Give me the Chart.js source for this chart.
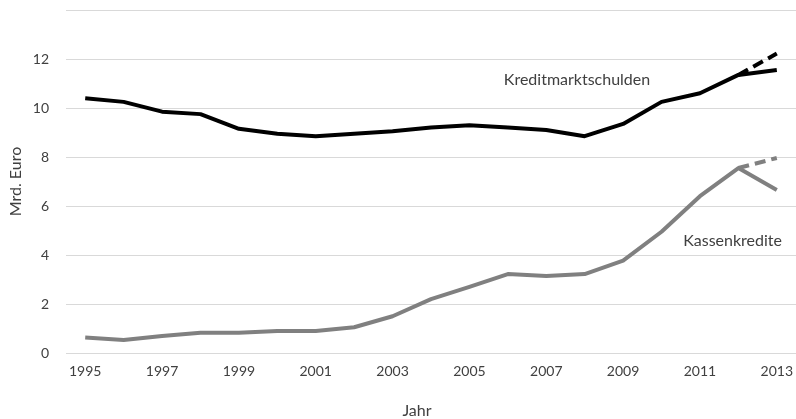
<!DOCTYPE html>
<html>
<head>
<meta charset="utf-8">
<script src="https://cdn.jsdelivr.net/npm/chart.js@4.4.1/dist/chart.umd.min.js"></script>
<style>
  html, body { margin: 0; padding: 0; background: #fff; }
  #wrap { width: 796px; height: 419px; }
</style>
</head>
<body>
<div id="wrap"><canvas id="debtChart"></canvas></div>
<script>
const years = ['1995', '1996', '1997', '1998', '1999', '2000', '2001', '2002', '2003', '2004',
    '2005', '2006', '2007', '2008', '2009', '2010', '2011', '2012', '2013'];
const kreditmarkt = [10.4, 10.25, 9.85, 9.75, 9.15, 8.95, 8.85, 8.95, 9.05, 9.2,
    9.3, 9.2, 9.1, 8.85, 9.35, 10.25, 10.6, 11.35, 11.55];
const kreditmarktPlan = [null, null, null, null, null, null, null, null, null, null,
    null, null, null, null, null, null, null, 11.35, 12.22];
const kassenkredite = [0.63, 0.53, 0.69, 0.83, 0.83, 0.9, 0.9, 1.05, 1.5, 2.2,
    2.7, 3.22, 3.14, 3.22, 3.77, 4.95, 6.4, 7.55, 6.65];
const kassenPlan = [null, null, null, null, null, null, null, null, null, null,
    null, null, null, null, null, null, null, 7.55, 7.96];
const yTicks = [0, 2, 4, 6, 8, 10, 12];

const textColor = '#404040';
const fontFamily = 'Lato, "Open Sans", sans-serif';

// inline series labels + x axis title
const labelPlugin = {
    id: 'seriesLabels',
    afterDraw(chart) {
        const ctx = chart.ctx;
        const x = chart.scales.x, y = chart.scales.y;
        ctx.save();
        ctx.fillStyle = textColor;
        ctx.font = '16px ' + fontFamily;
        ctx.textAlign = 'center';
        ctx.textBaseline = 'middle';
        ctx.fillText('Kreditmarktschulden', x.getPixelForValue(12.8), y.getPixelForValue(11.15));
        ctx.fillText('Kassenkredite', x.getPixelForValue(16.85), y.getPixelForValue(4.57));
        ctx.fillText('Jahr', 417, 411);
        ctx.restore();
    }
};

const ctx = document.getElementById('debtChart').getContext('2d');
new Chart(ctx, {
    type: 'line',
    data: {
        labels: years,
        datasets: [
            { label: 'Kreditmarktschulden', data: kreditmarkt, borderColor: '#000000', borderWidth: 4 },
            { label: 'Kreditmarktschulden Plan', data: kreditmarktPlan, borderColor: '#000000', borderWidth: 4, borderDash: [11, 6] },
            { label: 'Kassenkredite', data: kassenkredite, borderColor: '#808080', borderWidth: 4 },
            { label: 'Kassenkredite Plan', data: kassenPlan, borderColor: '#808080', borderWidth: 4, borderDash: [11, 6] }
        ]
    },
    options: {
        responsive: true,
        maintainAspectRatio: false,
        animation: false,
        layout: { padding: { top: 10, right: 0, left: 0, bottom: 0 } },
        elements: {
            point: { radius: 0 },
            line: { tension: 0, borderCapStyle: 'butt', borderJoinStyle: 'round' }
        },
        plugins: {
            legend: { display: false },
            tooltip: { enabled: false }
        },
        scales: {
            x: {
                offset: true,
                grid: { display: false, drawTicks: false },
                border: { display: true, color: '#d9d9d9', width: 1 },
                ticks: {
                    color: textColor,
                    font: { family: fontFamily, size: 14 },
                    padding: 10,
                    maxRotation: 0,
                    autoSkip: false,
                    callback: (v, i) => (i % 2 === 0 ? years[i] : '')
                },
                afterFit: (scale) => {
                    scale.height = 66;
                    scale.paddingLeft = 0;
                    scale.paddingRight = 0;
                }
            },
            y: {
                min: 0,
                max: 14,
                grid: { color: '#d9d9d9', lineWidth: 1, drawTicks: false },
                border: { display: false },
                ticks: {
                    stepSize: 2,
                    color: textColor,
                    font: { family: fontFamily, size: 14 },
                    padding: 17,
                    callback: (v) => (yTicks.includes(v) ? v : '')
                },
                title: {
                    display: true,
                    text: 'Mrd. Euro',
                    color: textColor,
                    font: { family: fontFamily, size: 16 },
                    padding: { top: 6, bottom: 0 }
                },
                afterFit: (scale) => {
                    scale.width = 66;
                    scale.paddingTop = 0;
                    scale.paddingBottom = 0;
                }
            }
        }
    },
    plugins: [labelPlugin]
});
</script>
</body>
</html>
